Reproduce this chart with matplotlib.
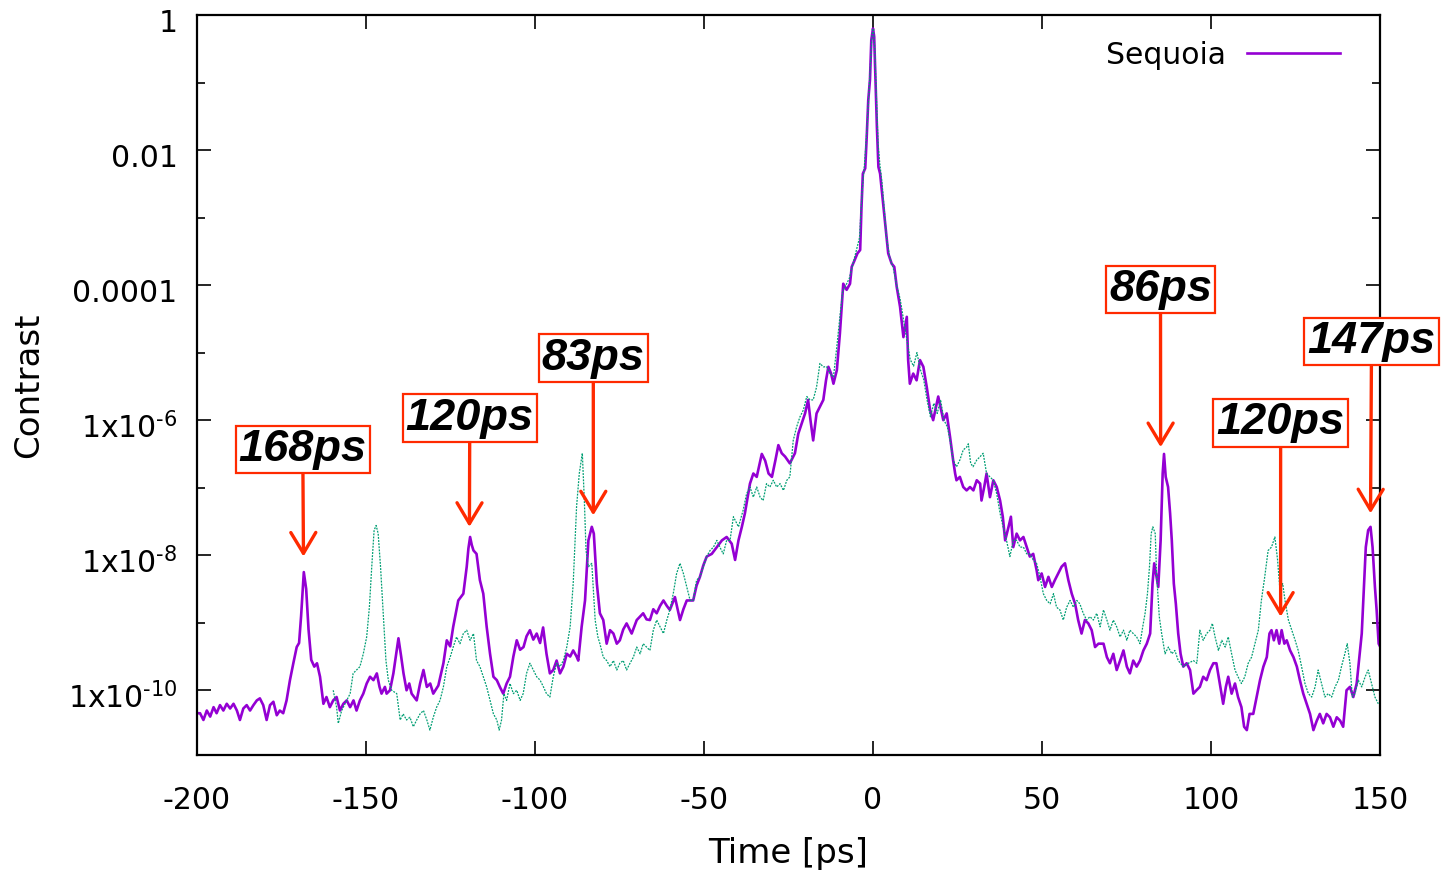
import numpy as np
import matplotlib
matplotlib.use('Agg')
import matplotlib.pyplot as plt
from matplotlib.ticker import FixedLocator, FixedFormatter, NullFormatter
from matplotlib.transforms import ScaledTranslation

plt.rcParams['font.family'] = ['DejaVu Sans']
plt.rcParams['mathtext.fontset'] = 'dejavusans'
plt.rcParams['mathtext.default'] = 'regular'

# ---------------- data (time in ps, log10 of contrast) ----------------
purple_time = [
    -200.0, -199.1, -198.1, -197.1, -196.1, -195.1, -194.2, -193.2, -192.2, -191.2,
    -190.2, -189.2, -188.2, -187.3, -186.3, -185.3, -184.3, -183.3, -182.3, -181.4,
    -180.4, -179.4, -178.4, -177.4, -176.4, -175.5, -174.5, -173.5, -172.5, -171.5,
    -170.5, -169.8, -169.2, -168.4, -167.7, -167.0, -166.2, -165.3, -164.5, -163.6,
    -162.6, -161.7, -160.7, -159.7, -158.7, -157.7, -156.7, -155.7, -154.7, -153.7,
    -152.8, -151.8, -150.8, -149.8, -148.8, -147.8, -146.8, -146.0, -145.4, -144.4,
    -143.9, -142.9, -141.9, -140.4, -139.6, -138.9, -138.0, -137.2, -136.5, -135.0,
    -134.0, -133.0, -132.0, -131.0, -130.1, -128.6, -127.1, -126.1, -125.1, -124.2,
    -123.4, -122.7, -121.2, -120.2, -119.7, -119.2, -118.7, -118.2, -117.3, -116.3,
    -115.3, -114.3, -113.3, -112.3, -111.3, -110.4, -109.4, -108.4, -107.4, -106.4,
    -105.4, -104.4, -103.4, -102.5, -101.5, -100.5, -99.5, -98.5, -97.6, -96.6,
    -95.6, -94.6, -93.6, -92.6, -91.6, -90.6, -89.6, -88.7, -87.7, -87.2,
    -86.2, -85.2, -84.2, -83.2, -82.6, -81.7, -80.8, -79.8, -78.8, -77.8,
    -76.8, -75.8, -74.9, -73.9, -72.9, -71.4, -69.9, -68.0, -67.0, -66.0,
    -65.0, -64.0, -63.0, -62.0, -61.0, -60.1, -58.6, -57.1, -56.1, -55.1,
    -53.2, -52.2, -51.2, -50.2, -49.2, -47.7, -46.2, -44.7, -43.3, -41.8,
    -40.8, -39.8, -38.8, -37.9, -36.4, -35.4, -34.4, -32.9, -31.9, -30.9,
    -29.9, -28.9, -28.0, -27.0, -26.0, -24.6, -23.1, -22.1, -21.1, -20.1,
    -19.2, -18.5, -17.7, -16.7, -15.7, -14.7, -13.9, -13.2, -12.4, -11.7,
    -10.7, -9.8, -8.8, -7.8, -6.8, -6.3, -5.6, -4.6, -3.8, -3.4,
    -3.0, -2.3, -1.9, -1.4, -0.9, -0.5, 0.0, 0.35, 0.75, 1.15,
    1.6, 2.1, 2.9, 3.7, 4.5, 5.5, 6.3, 7.0, 8.0, 9.0,
    10.0, 10.4, 10.9, 11.9, 12.9, 13.9, 14.9, 15.9, 16.9, 17.8,
    19.3, 20.8, 21.8, 22.8, 23.7, 24.3, 24.7, 25.7, 26.7, 27.7,
    28.7, 29.7, 30.7, 31.7, 32.1, 32.9, 33.6, 34.6, 35.6, 36.6,
    37.6, 38.4, 39.1, 40.1, 40.8, 41.5, 42.5, 43.5, 44.5, 45.5,
    46.4, 47.4, 48.4, 48.9, 49.9, 50.9, 51.9, 52.9, 53.8, 54.8,
    55.8, 56.8, 57.8, 58.8, 59.8, 60.7, 61.7, 62.7, 63.7, 64.7,
    65.7, 66.7, 68.2, 69.2, 70.1, 71.1, 72.1, 73.1, 74.1, 75.1,
    76.0, 77.0, 78.0, 79.0, 80.0, 81.0, 82.0, 82.7, 83.2, 83.9,
    84.4, 85.1, 85.7, 86.1, 86.6, 87.3, 87.9, 88.4, 89.0, 89.6,
    90.3, 91.0, 91.8, 92.8, 93.8, 94.8, 95.7, 96.7, 97.7, 98.7,
    99.7, 100.7, 101.6, 102.6, 103.6, 104.4, 105.1, 106.1, 107.1, 108.0,
    109.0, 109.8, 110.6, 111.4, 112.5, 113.5, 114.5, 115.5, 116.5, 117.3,
    117.9, 118.6, 119.4, 120.2, 120.9, 121.7, 122.4, 123.4, 124.4, 125.4,
    126.3, 127.3, 128.3, 129.3, 130.3, 131.3, 132.2, 133.2, 134.2, 135.2,
    136.2, 137.2, 138.2, 139.1, 140.1, 141.1, 142.1, 143.1, 143.9, 144.6,
    145.3, 145.8, 146.5, 147.2, 147.8, 148.5, 149.0, 149.6, 150.0,
]
purple_log10 = [
    -10.34, -10.34, -10.44, -10.30, -10.39, -10.25, -10.34, -10.22, -10.30, -10.20,
    -10.27, -10.20, -10.30, -10.44, -10.27, -10.22, -10.30, -10.22, -10.15, -10.12,
    -10.22, -10.44, -10.22, -10.17, -10.37, -10.30, -10.34, -10.15, -9.85, -9.60,
    -9.36, -9.30, -8.90, -8.25, -8.50, -9.10, -9.55, -9.65, -9.60, -9.80,
    -10.20, -10.10, -10.25, -10.15, -10.10, -10.30, -10.20, -10.15, -10.25, -10.15,
    -10.30, -10.15, -10.05, -9.90, -9.80, -9.85, -9.75, -9.95, -10.05, -9.95,
    -10.05, -10.00, -9.75, -9.23, -9.50, -9.75, -10.00, -9.90, -10.05, -10.15,
    -9.90, -9.70, -9.95, -9.90, -10.05, -9.93, -9.60, -9.26, -9.35, -9.06,
    -8.85, -8.67, -8.57, -8.17, -7.90, -7.73, -7.85, -7.93, -7.98, -8.37,
    -8.57, -9.06, -9.46, -9.80, -9.85, -9.95, -10.05, -9.90, -9.80, -9.50,
    -9.26, -9.40, -9.36, -9.20, -9.11, -9.25, -9.16, -9.30, -9.07, -9.46,
    -9.75, -9.70, -9.56, -9.75, -9.65, -9.46, -9.50, -9.41, -9.50, -9.56,
    -9.06, -8.67, -7.78, -7.58, -7.68, -8.42, -8.86, -8.96, -9.31, -9.11,
    -9.16, -9.31, -9.26, -9.10, -9.01, -9.16, -8.96, -8.86, -8.95, -8.96,
    -8.80, -8.86, -8.75, -8.67, -8.75, -8.81, -8.62, -8.96, -8.80, -8.67,
    -8.67, -8.45, -8.32, -8.15, -8.02, -7.98, -7.88, -7.78, -7.73, -7.83,
    -8.07, -7.78, -7.58, -7.38, -6.94, -6.79, -6.84, -6.50, -6.60, -6.79,
    -6.84, -6.60, -6.37, -6.49, -6.54, -6.64, -6.49, -6.20, -6.05, -5.90,
    -5.70, -6.00, -6.30, -5.90, -5.80, -5.70, -5.41, -5.21, -5.31, -5.46,
    -5.26, -4.72, -3.98, -4.07, -3.98, -3.73, -3.65, -3.53, -3.48, -2.84,
    -2.35, -2.27, -1.85, -1.26, -0.96, -0.37, -0.20, -0.32, -1.01, -1.65,
    -2.25, -2.35, -2.74, -3.14, -3.53, -3.68, -3.73, -4.02, -4.32, -4.77,
    -4.47, -5.11, -5.46, -5.31, -5.41, -5.11, -5.21, -5.51, -5.85, -6.00,
    -5.65, -6.00, -5.90, -6.25, -6.59, -6.79, -6.89, -6.84, -6.99, -7.04,
    -6.99, -7.04, -6.89, -6.94, -7.19, -6.99, -6.79, -7.14, -6.89, -6.99,
    -7.19, -7.43, -7.78, -7.58, -7.43, -7.88, -7.68, -7.78, -7.73, -7.88,
    -8.02, -7.98, -8.22, -8.37, -8.27, -8.47, -8.32, -8.47, -8.37, -8.27,
    -8.17, -8.12, -8.37, -8.57, -8.72, -8.96, -9.16, -8.96, -9.01, -9.11,
    -9.36, -9.31, -9.31, -9.51, -9.60, -9.46, -9.70, -9.56, -9.41, -9.65,
    -9.75, -9.56, -9.65, -9.56, -9.41, -9.31, -9.16, -8.42, -8.12, -8.32,
    -8.47, -7.78, -6.79, -6.50, -6.84, -6.99, -7.38, -7.78, -8.42, -8.72,
    -9.16, -9.46, -9.65, -9.60, -9.70, -10.05, -10.00, -9.95, -9.80, -9.85,
    -9.70, -9.60, -9.60, -9.90, -10.20, -9.95, -9.80, -10.05, -9.90, -10.10,
    -10.25, -10.54, -10.59, -10.35, -10.35, -10.10, -9.85, -9.65, -9.51, -9.16,
    -9.11, -9.26, -9.11, -9.31, -9.11, -9.31, -9.26, -9.41, -9.51, -9.65,
    -9.85, -10.05, -10.20, -10.35, -10.59, -10.45, -10.35, -10.49, -10.35, -10.40,
    -10.54, -10.40, -10.45, -10.54, -10.00, -9.95, -10.10, -9.90, -9.51, -9.16,
    -8.42, -7.88, -7.63, -7.58, -7.88, -8.47, -8.81, -9.31, -9.35,
]

green_time = [
    -159.7, -158.7, -158.2, -157.2, -155.7, -154.7, -153.8, -152.8, -151.8, -150.8,
    -149.8, -149.0, -148.3, -147.6, -147.0, -146.4, -145.7, -144.9, -144.1, -143.4,
    -142.4, -140.9, -139.9, -139.0, -138.0, -137.0, -136.0, -135.0, -134.0, -133.0,
    -132.0, -131.1, -130.1, -129.1, -128.1, -127.1, -126.1, -125.1, -124.2, -123.2,
    -122.2, -121.2, -120.2, -119.2, -118.2, -117.3, -116.3, -115.3, -114.3, -113.3,
    -112.3, -111.3, -110.6, -109.9, -109.2, -108.4, -107.4, -106.4, -105.4, -104.4,
    -103.5, -102.5, -101.5, -100.5, -99.5, -98.5, -97.5, -96.6, -95.6, -94.6,
    -93.6, -92.6, -91.6, -90.6, -89.6, -88.7, -87.7, -86.9, -86.0, -85.4,
    -84.9, -84.2, -83.2, -82.2, -81.4, -80.8, -79.8, -78.8, -77.8, -76.8,
    -75.8, -74.9, -73.9, -72.9, -71.9, -70.9, -69.9, -68.9, -68.0, -67.0,
    -66.0, -65.0, -64.0, -63.0, -62.0, -61.0, -60.1, -59.1, -58.1, -57.1,
    -56.1, -55.1, -54.1, -53.2, -52.2, -51.2, -50.2, -49.2, -48.2, -47.2,
    -46.2, -45.3, -44.3, -43.3, -42.3, -41.3, -39.8, -38.4, -37.4, -36.4,
    -35.4, -34.4, -33.4, -32.5, -31.5, -30.5, -29.5, -28.5, -27.5, -26.5,
    -25.5, -24.6, -23.6, -22.6, -21.6, -20.6, -19.6, -18.6, -17.7, -16.7,
    -15.7, -14.7, -13.7, -12.7, -11.7, -10.7, -9.9, -9.0, -8.0, -7.0,
    -6.0, -5.0, -4.0, -3.2, -2.5, -1.8, -1.2, -0.7, -0.3, 0.1,
    0.5, 1.0, 1.5, 2.0, 2.6, 3.2, 4.0, 5.0, 6.0, 7.0,
    8.0, 9.0, 10.0, 11.0, 12.0, 13.0, 14.0, 15.0, 16.0, 17.0,
    18.0, 19.0, 20.0, 21.0, 22.0, 22.8, 23.7, 24.7, 25.7, 26.7,
    27.7, 28.2, 28.9, 29.6, 30.7, 31.7, 32.6, 33.6, 34.6, 35.6,
    36.6, 37.6, 38.5, 39.5, 40.5, 41.5, 42.5, 43.5, 44.5, 45.5,
    46.4, 47.4, 48.4, 49.4, 50.4, 51.4, 52.4, 53.4, 54.3, 55.3,
    56.3, 57.3, 58.3, 59.3, 60.3, 61.2, 62.2, 63.2, 64.2, 65.2,
    66.2, 67.2, 68.2, 69.2, 70.1, 71.1, 72.1, 73.1, 74.1, 75.1,
    76.0, 77.0, 78.0, 79.0, 79.8, 80.5, 81.2, 81.8, 82.3, 82.8,
    83.5, 83.9, 84.7, 85.4, 86.4, 87.4, 88.4, 89.3, 90.3, 91.8,
    93.3, 94.8, 95.8, 96.7, 97.7, 98.7, 99.7, 100.4, 101.2, 102.2,
    103.2, 104.2, 105.1, 106.1, 107.1, 108.0, 109.0, 110.0, 111.0, 112.0,
    113.0, 114.0, 114.9, 115.9, 116.9, 117.9, 118.9, 119.7, 120.4, 121.2,
    121.9, 122.9, 123.9, 124.9, 125.8, 126.8, 127.8, 128.8, 129.8, 130.8,
    131.7, 132.7, 133.7, 134.7, 135.7, 136.7, 137.7, 138.6, 139.6, 140.3,
    141.1, 141.8, 142.6, 143.6, 144.6, 145.6, 146.5, 147.5, 148.5, 149.5,
]
green_log10 = [
    -10.00, -10.25, -10.49, -10.30, -10.15, -10.05, -9.75, -9.70, -9.65, -9.46,
    -9.21, -8.77, -8.17, -7.63, -7.56, -7.68, -8.17, -8.86, -9.56, -9.85,
    -10.00, -10.05, -10.44, -10.35, -10.44, -10.40, -10.54, -10.44, -10.35, -10.30,
    -10.44, -10.59, -10.40, -10.25, -10.15, -9.95, -9.65, -9.51, -9.36, -9.21,
    -9.31, -9.16, -9.11, -9.26, -9.16, -9.56, -9.65, -9.80, -9.95, -10.15,
    -10.35, -10.44, -10.59, -10.44, -10.05, -10.15, -9.90, -10.05, -10.00, -10.15,
    -10.05, -9.75, -9.60, -9.70, -9.80, -9.85, -9.95, -10.05, -10.10, -9.80,
    -9.60, -9.65, -9.56, -9.36, -9.06, -8.42, -7.28, -6.79, -6.49, -7.19,
    -7.93, -8.17, -8.12, -8.96, -9.21, -9.31, -9.51, -9.56, -9.65, -9.56,
    -9.70, -9.60, -9.56, -9.70, -9.60, -9.51, -9.36, -9.46, -9.31, -9.36,
    -9.41, -9.11, -8.96, -9.06, -9.16, -8.96, -8.81, -8.57, -8.27, -8.12,
    -8.27, -8.47, -8.67, -8.67, -8.37, -8.32, -8.17, -8.02, -7.93, -7.88,
    -7.78, -7.88, -7.98, -7.78, -7.78, -7.43, -7.58, -7.33, -7.09, -6.99,
    -7.14, -6.99, -7.14, -7.19, -6.94, -6.99, -6.89, -6.99, -6.94, -7.04,
    -6.89, -6.84, -6.30, -6.10, -5.95, -5.85, -5.65, -5.70, -5.70, -5.51,
    -5.16, -5.21, -5.21, -5.31, -5.36, -4.91, -4.52, -4.10, -4.00, -3.90,
    -3.70, -3.50, -3.30, -2.60, -2.20, -1.70, -1.15, -0.70, -0.30, -0.20,
    -0.45, -1.20, -1.90, -2.20, -2.45, -2.80, -3.30, -3.60, -3.75, -4.00,
    -4.20, -4.50, -4.80, -5.10, -5.20, -5.00, -5.25, -5.40, -5.70, -5.95,
    -5.75, -5.90, -5.70, -6.00, -6.10, -6.30, -6.59, -6.69, -6.59, -6.44,
    -6.40, -6.35, -6.64, -6.69, -6.59, -6.54, -6.49, -6.79, -6.84, -6.89,
    -7.09, -7.38, -7.58, -7.78, -8.02, -7.78, -7.78, -7.88, -7.88, -7.98,
    -7.98, -8.07, -8.12, -8.32, -8.57, -8.67, -8.72, -8.57, -8.77, -8.81,
    -8.96, -8.77, -8.67, -8.77, -8.67, -8.72, -8.86, -8.96, -8.91, -8.96,
    -8.86, -9.06, -8.81, -8.96, -9.11, -8.96, -9.06, -9.21, -9.11, -9.26,
    -9.11, -9.16, -9.21, -9.31, -9.06, -8.86, -8.57, -8.17, -7.68, -7.58,
    -7.68, -8.27, -8.91, -9.16, -9.46, -9.36, -9.46, -9.41, -9.56, -9.65,
    -9.60, -9.56, -9.60, -9.11, -9.26, -9.16, -9.11, -9.01, -9.21, -9.41,
    -9.26, -9.36, -9.21, -9.46, -9.70, -9.80, -9.90, -9.80, -9.60, -9.51,
    -9.31, -9.11, -8.67, -8.32, -7.93, -7.88, -7.73, -8.07, -8.52, -8.42,
    -8.67, -8.96, -9.11, -9.26, -9.41, -9.65, -9.90, -10.05, -10.10, -9.95,
    -9.70, -9.90, -10.10, -10.05, -10.10, -9.95, -9.85, -9.65, -9.46, -9.31,
    -9.60, -10.10, -10.05, -9.85, -9.95, -9.80, -9.70, -9.90, -10.10, -10.20,
]

series_label = 'Sequoia'

xtick_values = [-200, -150, -100, -50, 0, 50, 100, 150]
xtick_labels = ['-200', '-150', '-100', '-50', '0', '50', '100', '150']
ytick_values = [1, 1e-2, 1e-4, 1e-6, 1e-8, 1e-10]
ytick_labels = ['1', '0.01', '0.0001', r'1x10$^{\text{-6}}$',
                r'1x10$^{\text{-8}}$', r'1x10$^{\text{-10}}$']
yminor_values = [1e-1, 1e-3, 1e-5, 1e-7, 1e-9]

# annotations: label, peak time, log10 of arrow tip, box centre (time, log10)
ann_labels = ['168ps', '120ps', '83ps', '86ps', '120ps', '147ps']
ann_peak_time = [-168.5, -119.4, -82.75, 85.1, 120.6, 147.2]
ann_tip_log10 = [-8.02, -7.58, -7.41, -6.40, -8.91, -7.38]
ann_box_time = [-168.7, -119.3, -82.75, 85.06, 120.6, 147.5]
ann_box_log10 = [-6.43, -5.97, -5.08, -4.07, -6.04, -4.84]

# ---------------- figure ----------------
W, H = 1443, 871
fig = plt.figure(figsize=(W / 100, H / 100), dpi=100)
ax = fig.add_axes([197 / W, 1 - 755 / H, (1380 - 197) / W, (755 - 15) / H])

ax.plot(purple_time, 10 ** np.array(purple_log10), color='#9400d3', lw=1.9,
        label=series_label, zorder=2)
ax.plot(green_time, 10 ** np.array(green_log10), color='#009e73', lw=0.9,
        ls=(0, (1.5, 1.0)), zorder=3)

ax.set_yscale('log')
ax.set_xlim(-200, 150)
ax.set_ylim(1.1e-11, 1.0)

ax.xaxis.set_major_locator(FixedLocator(xtick_values))
ax.xaxis.set_major_formatter(FixedFormatter(xtick_labels))
ax.yaxis.set_major_locator(FixedLocator(ytick_values))
ax.yaxis.set_major_formatter(FixedFormatter(ytick_labels))
ax.yaxis.set_minor_locator(FixedLocator(yminor_values))
ax.yaxis.set_minor_formatter(NullFormatter())
ax.xaxis.set_minor_locator(FixedLocator([]))

ax.tick_params(which='both', direction='in', top=True, right=True,
               width=1.2, color='black', labelsize=21.5)
ax.tick_params(which='major', length=10)
ax.tick_params(which='minor', length=5.5)
ax.tick_params(axis='x', pad=22.5)
ax.tick_params(axis='y', pad=14)
for sp in ax.spines.values():
    sp.set_linewidth(1.6)

# shift y tick labels slightly downward as in the reference
offset = ScaledTranslation(0, -5 / 100, fig.dpi_scale_trans)
for lbl in ax.get_yticklabels():
    lbl.set_transform(lbl.get_transform() + offset)

ax.set_xlabel('Time [ps]', fontsize=24.5)
ax.set_ylabel('Contrast', fontsize=24.5)
ax.xaxis.set_label_coords(0.5, -0.111)
ax.yaxis.set_label_coords(-0.128, 0.5)

ax.legend(loc='upper right', bbox_to_anchor=(0.966, 0.965), frameon=False,
          markerfirst=False, handlelength=3.1, fontsize=21.5, handletextpad=0.7,
          borderpad=0, borderaxespad=0)

red = '#ff2a00'
for lab, pt, tl, bt, bl in zip(ann_labels, ann_peak_time, ann_tip_log10,
                               ann_box_time, ann_box_log10):
    ax.annotate(lab, xy=(pt, 10 ** tl), xytext=(bt, 10 ** bl),
                textcoords='data', ha='center', va='center',
                fontsize=32.5, fontweight='bold', fontstyle='italic',
                family=['Liberation Sans', 'DejaVu Sans'],
                bbox=dict(boxstyle='square,pad=0.07', fc='white', ec=red, lw=1.6),
                arrowprops=dict(arrowstyle='->,head_length=0.75,head_width=0.45',
                                color=red, lw=2.4, shrinkA=0, shrinkB=0,
                                mutation_scale=20),
                annotation_clip=False, zorder=5)

fig.savefig('out.png', dpi=100)
